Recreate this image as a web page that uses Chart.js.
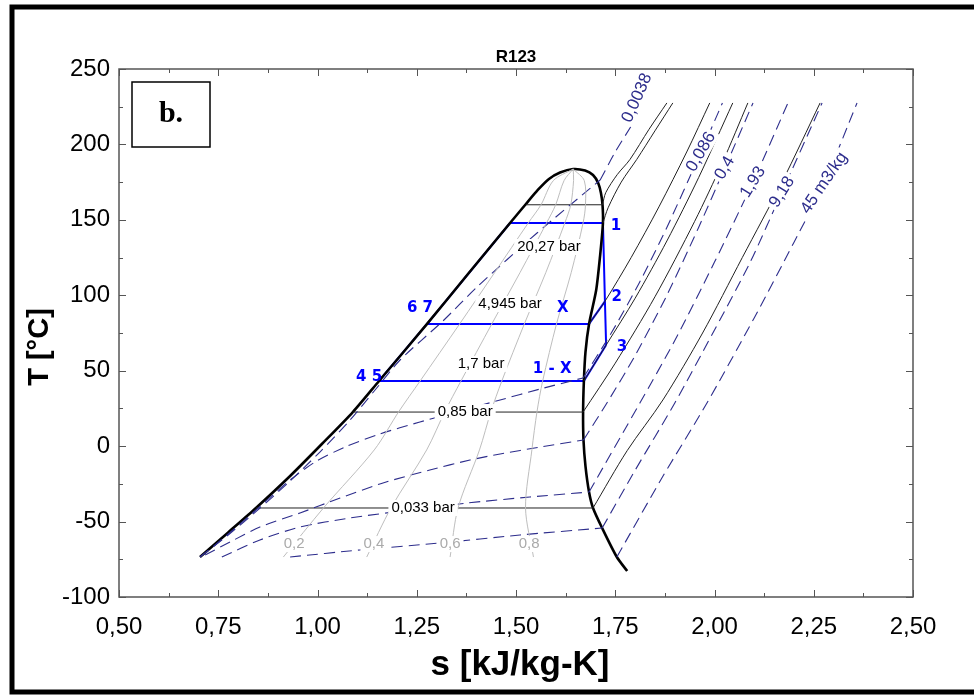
<!DOCTYPE html>
<html>
<head>
<meta charset="utf-8">
<script src="https://cdn.jsdelivr.net/npm/chart.js@4.4.1/dist/chart.umd.min.js"></script>
<style>
  html, body { margin: 0; padding: 0; background: #fff; }
  #wrap { width: 974px; height: 695px; position: relative; }
</style>
</head>
<body>
<div id="wrap"><canvas id="chart"></canvas></div>
<script>
// R123 T-s diagram, s in kJ/kg-K, T in degC

// saturation dome: liquid line -> critical point -> vapour line
var domeS = [0.704, 0.775, 0.845, 0.931, 1.011, 1.089, 1.155, 1.276, 1.379, 1.485, 1.525, 1.555, 1.583, 1.611, 1.644,
             1.674, 1.694, 1.707, 1.714, 1.718, 1.719, 1.712, 1.702, 1.684, 1.675, 1.671, 1.669, 1.670,
             1.675, 1.684, 1.694, 1.717, 1.754, 1.780];
var domeT = [-73.5, -57.2, -41, -19.8, 1.4, 22.6, 43.2, 81, 114.1, 147.9, 160.5, 169.8, 177.1, 181.4, 183.7,
             182.7, 179.7, 174.4, 167.8, 159.8, 147.9, 126.7, 103.5, 81, 62.4, 43.2, 22.6, 4.1,
             -13.2, -30.4, -41, -54.3, -73.5, -82.8];

// isobars inside the dome (horizontal)
var flatT  = [160, 22.6, -41];
var flatSl = [1.525, 1.089, 0.845];
var flatSg = [1.718, 1.669, 1.694];

// isobars in superheated region
var p28S = [1.718, 1.726, 1.755, 1.787, 1.835, 1.880];
var p28T = [160, 168, 180, 190, 210, 227.5];
var p2027S = [1.719, 1.732, 1.765, 1.804, 1.85, 1.895];
var p2027T = [147.9, 158, 175, 190, 209, 227.5];
var p4945S = [1.684, 1.724, 1.79, 1.86, 1.93, 1.988];
var p4945T = [81, 96, 125, 158.6, 195, 227.5];
var p17S = [1.671, 1.727, 1.80, 1.88, 1.96, 2.046];
var p17T = [43.2, 67, 98, 136, 178, 227.5];
var p085S = [1.669, 1.75, 1.85, 1.95, 2.02, 2.084];
var p085T = [22.6, 55, 99, 149, 188, 227.5];
var p0033S = [1.694, 1.78, 1.87, 1.97, 2.07, 2.17, 2.266];
var p0033T = [-41, -3, 30.6, 75, 125, 175, 227.5];

// isochores (m3/kg): part inside the dome, then part in the vapour region
var v0038inS = [0.704, 0.775, 0.850, 0.931, 1.006, 1.082, 1.145, 1.208, 1.316, 1.402, 1.553, 1.712];
var v0038inT = [-73.5, -58.9, -42.3, -23.1, -3.9, 17.3, 37.2, 57.1, 83, 105.5, 141.3, 176.4];
var v0038outS = [1.712, 1.75, 1.795];
var v0038outT = [176.4, 195, 214.2];
var v086inS = [0.704, 0.742, 0.805, 0.868, 0.931, 0.994, 1.069, 1.157, 1.258, 1.359, 1.460, 1.561, 1.669];
var v086inT = [-73.5, -65.5, -51.6, -37, -22.4, -10.5, -0.6, 8.1, 16, 23.3, 30.6, 37.9, 45.2];
var v086outS = [1.669, 1.74, 1.81, 1.88, 1.966, 2.02];
var v086outT = [45.2, 75, 108, 145, 195, 227.5];
var v04inS = [0.717, 0.780, 0.855, 0.956, 1.057, 1.165, 1.283, 1.384, 1.460, 1.561, 1.670];
var v04inT = [-72.2, -63.5, -53.6, -44.3, -34.4, -24.4, -15.8, -9.2, -5.2, -0.6, 4.1];
var v04outS = [1.670, 1.729, 1.80, 1.88, 1.96, 2.026, 2.097];
var v04outT = [4.1, 28.6, 60, 100, 145, 184.4, 227.5];
var v193inS = [0.759, 0.855, 0.956, 1.082, 1.233, 1.377, 1.535, 1.684];
var v193inT = [-73.5, -62.2, -53.6, -47.6, -42.3, -37.7, -33.7, -30.4];
var v193outS = [1.684, 1.812, 1.90, 2.00, 2.097, 2.185];
var v193outT = [-30.4, 28.6, 70, 122, 175.1, 227.5];
var v918inS = [0.931, 1.107, 1.309, 1.510, 1.717];
var v918inT = [-73.5, -68.8, -64.2, -58.9, -54.3];
var v918outS = [1.717, 1.80, 1.90, 2.00, 2.09, 2.17, 2.271];
var v918outT = [-54.3, -16, 28.6, 77, 122, 168.5, 227.5];
var v45outS = [1.754, 1.87, 1.981, 2.10, 2.20, 2.276, 2.359];
var v45outT = [-73.5, -20, 28.6, 85, 135, 174.4, 227.5];

// vapour quality lines
var qT  = [-73.5, -41, -2.5, 23, 43, 81, 115, 148, 160, 176, 183.7];
var q2S = [0.914, 1.015, 1.143, 1.205, 1.258, 1.358, 1.446, 1.531, 1.563, 1.594, 1.644];
var q4S = [1.124, 1.185, 1.275, 1.321, 1.361, 1.439, 1.510, 1.577, 1.600, 1.621, 1.644];
var q6S = [1.334, 1.354, 1.408, 1.437, 1.464, 1.521, 1.575, 1.623, 1.638, 1.645, 1.644];
var q8S = [1.544, 1.524, 1.540, 1.553, 1.567, 1.602, 1.639, 1.669, 1.675, 1.672, 1.644];

// ORC cycle
var cycleS = [1.155, 1.276, 1.485, 1.719, 1.724, 1.727];
var cycleT = [43.2, 81, 147.9, 147.9, 96, 67];
var cyc67S = [1.276, 1.684, 1.724];
var cyc67T = [81, 81, 96];
var cyc45S = [1.155, 1.671, 1.727];
var cyc45T = [43.2, 43.2, 67];

// labels
var barText = ['20,27 bar', '4,945 bar', '1,7 bar', '0,85 bar', '0,033 bar'];
var barS = [1.583, 1.485, 1.412, 1.372, 1.266];
var barT = [132, 94.2, 54.5, 22.6, -41];
var volText = ['0,0038', '0,086', '0,4', '1,93', '9,18', '45 m3/kg'];
var volS = [1.805, 1.966, 2.026, 2.097, 2.170, 2.276];
var volT = [230.8, 195, 184.4, 175.1, 168.5, 174.4];
var volAngle = [-66, -60, -60, -58, -58, -56];
var qText = ['0,2', '0,4', '0,6', '0,8'];
var qLabS = [0.941, 1.142, 1.334, 1.533];
var qLabT = [-64.9, -64.9, -64.9, -64.9];
var ptText = ['1', '2', '3', '6 7', '4 5', 'X', '1 - X'];
var ptS = [1.752, 1.754, 1.767, 1.258, 1.130, 1.618, 1.591];
var ptT = [145.9, 98.9, 65.7, 91.6, 45.8, 91.6, 51.1];

var FONT = "'Liberation Sans', Arial, sans-serif";
var NAVY = 'rgb(45,45,140)';
var BLUE = '#0000ff';

function pts(sArr, tArr) {
  return sArr.map(function (s, i) { return {x: s, y: tArr[i]}; });
}

function line(sArr, tArr, color, width, dash, tension) {
  return {
    data: pts(sArr, tArr),
    showLine: true,
    borderColor: color,
    borderWidth: width,
    borderDash: dash || [],
    tension: tension === undefined ? 0.3 : tension,
    pointRadius: 0,
    fill: false
  };
}

var datasets = [];
[q2S, q4S, q6S, q8S].forEach(function (q) {
  datasets.push(line(q, qT, 'rgb(190,190,190)', 1));
});
[[v0038inS, v0038inT], [v0038outS, v0038outT], [v086inS, v086inT], [v086outS, v086outT],
 [v04inS, v04inT], [v04outS, v04outT], [v193inS, v193inT], [v193outS, v193outT],
 [v918inS, v918inT], [v918outS, v918outT], [v45outS, v45outT]].forEach(function (v) {
  datasets.push(line(v[0], v[1], NAVY, 1.1, [11, 6], 0.25));
});
flatT.forEach(function (t, i) {
  datasets.push(line([flatSl[i], flatSg[i]], [t, t], '#222', 1, null, 0));
});
[[p28S, p28T], [p2027S, p2027T], [p4945S, p4945T], [p17S, p17T],
 [p085S, p085T], [p0033S, p0033T]].forEach(function (p) {
  datasets.push(line(p[0], p[1], '#222', 1));
});
datasets.push(line(domeS, domeT, '#000', 2.6, null, 0.25));
datasets.push(line(cycleS, cycleT, BLUE, 2, null, 0));
datasets.push(line(cyc67S, cyc67T, BLUE, 2, null, 0));
datasets.push(line(cyc45S, cyc45T, BLUE, 2, null, 0));

function textAt(ctx, txt, x, y, font, color, bg, rot) {
  ctx.save();
  ctx.translate(x, y);
  if (rot) ctx.rotate(rot);
  ctx.font = font;
  ctx.textAlign = 'center';
  ctx.textBaseline = 'middle';
  if (bg) {
    var w = ctx.measureText(txt).width + 6;
    ctx.fillStyle = bg;
    ctx.fillRect(-w / 2, -8, w, 16);
  }
  ctx.fillStyle = color;
  ctx.fillText(txt, 0, 0);
  ctx.restore();
}

var decor = {
  id: 'decor',
  beforeDraw: function (chart) {
    var c = chart.ctx;
    c.save();
    c.fillStyle = '#fff';
    c.fillRect(0, 0, chart.width, chart.height);
    c.restore();
  },
  afterDatasetsDraw: function (chart) {
    var c = chart.ctx, xs = chart.scales.x, ys = chart.scales.y, a = chart.chartArea;
    var i;
    for (i = 0; i < barText.length; i++) {
      textAt(c, barText[i], xs.getPixelForValue(barS[i]), ys.getPixelForValue(barT[i]),
        '15px ' + FONT, '#000', '#fff');
    }
    for (i = 0; i < volText.length; i++) {
      textAt(c, volText[i], xs.getPixelForValue(volS[i]), ys.getPixelForValue(volT[i]),
        '17px ' + FONT, NAVY, '#fff', volAngle[i] * Math.PI / 180);
    }
    for (i = 0; i < qText.length; i++) {
      textAt(c, qText[i], xs.getPixelForValue(qLabS[i]), ys.getPixelForValue(qLabT[i]),
        '15px ' + FONT, '#aaa', '#fff');
    }
    for (i = 0; i < ptText.length; i++) {
      textAt(c, ptText[i], xs.getPixelForValue(ptS[i]), ys.getPixelForValue(ptT[i]),
        'bold 15px "DejaVu Sans", sans-serif', BLUE);
    }

    // frame with inward ticks
    c.save();
    c.strokeStyle = '#555';
    c.lineWidth = 1.5;
    c.strokeRect(a.left, a.top, a.right - a.left, a.bottom - a.top);
    c.lineWidth = 1;
    c.beginPath();
    var k, px, len;
    for (k = 0; k <= 16; k++) {
      px = Math.round(xs.getPixelForValue(0.5 + k * 0.125)) + 0.5;
      len = k % 2 === 0 ? 7 : 4;
      c.moveTo(px, a.bottom); c.lineTo(px, a.bottom - len);
      c.moveTo(px, a.top); c.lineTo(px, a.top + len);
    }
    for (k = 0; k <= 14; k++) {
      px = Math.round(ys.getPixelForValue(-100 + k * 25)) + 0.5;
      len = k % 2 === 0 ? 7 : 4;
      c.moveTo(a.left, px); c.lineTo(a.left + len, px);
      c.moveTo(a.right, px); c.lineTo(a.right - len, px);
    }
    c.stroke();
    c.restore();
  },
  afterDraw: function (chart) {
    var c = chart.ctx, a = chart.chartArea;
    c.save();
    // outer frame of the figure
    c.strokeStyle = '#000';
    c.lineWidth = 5;
    c.strokeRect(12, 7, 990, 685);
    // panel tag
    c.lineWidth = 1.5;
    c.strokeRect(132, 82, 78, 65);
    c.fillStyle = '#000';
    c.font = 'bold 30px "Liberation Serif", "Times New Roman", serif';
    c.textAlign = 'center';
    c.textBaseline = 'middle';
    c.fillText('b.', 171, 114);
    // title
    c.font = 'bold 17px ' + FONT;
    c.fillText('R123', (a.left + a.right) / 2, 57);
    // axis titles
    c.font = 'bold 35px ' + FONT;
    c.fillText('s [kJ/kg-K]', (a.left + a.right) / 2 + 4, 665);
    c.translate(40, 347);
    c.rotate(-Math.PI / 2);
    c.font = 'bold 29px ' + FONT;
    c.fillText('T [\u00b0C]', 0, 0);
    c.restore();
  }
};

new Chart(document.getElementById('chart'), {
  type: 'scatter',
  data: {datasets: datasets},
  options: {
    responsive: true,
    maintainAspectRatio: false,
    animation: false,
    devicePixelRatio: 1,
    layout: {padding: {top: 69, right: 61, bottom: 0, left: 0}},
    plugins: {legend: {display: false}, tooltip: {enabled: false}, title: {display: false}},
    scales: {
      x: {
        type: 'linear', min: 0.5, max: 2.5,
        grid: {display: false, drawTicks: false},
        border: {display: false},
        ticks: {
          stepSize: 0.25, padding: 16, color: '#000', maxRotation: 0, autoSkip: false,
          font: {family: FONT, size: 24},
          callback: function (v) { return v.toFixed(2).replace('.', ','); }
        },
        afterFit: function (s) { s.height = 98; }
      },
      y: {
        type: 'linear', min: -100, max: 250,
        grid: {display: false, drawTicks: false},
        border: {display: false},
        ticks: {
          stepSize: 50, padding: 9, color: '#000',
          font: {family: FONT, size: 24},
          callback: function (v) { return String(v); }
        },
        afterFit: function (s) { s.width = 119; }
      }
    }
  },
  plugins: [decor]
});
</script>
</body>
</html>
